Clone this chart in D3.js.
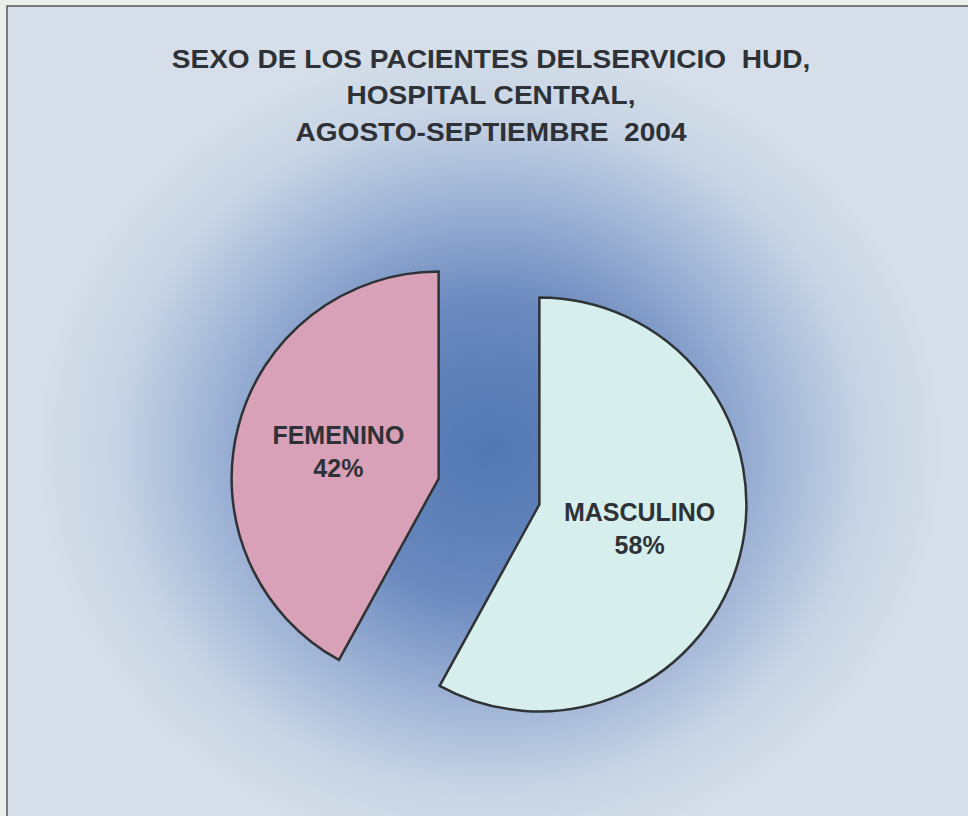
<!DOCTYPE html>
<html>
<head>
<meta charset="utf-8">
<script src="https://cdn.jsdelivr.net/npm/d3@7"></script>
<style>
  html, body { margin: 0; padding: 0; background: #eceee8; }
  svg { display: block; }
  text { font-family: "Liberation Sans", Arial, sans-serif; font-weight: bold; fill: #2e3236; white-space: pre; }
</style>
</head>
<body>
<svg id="chart" width="968" height="816"></svg>
<script>
const categories = ["MASCULINO", "FEMENINO"];
const values = [58, 42];
const sliceColors = ["#d6eeec", "#d9a1b7"];
const titleLines = [
	"SEXO DE LOS PACIENTES DELSERVICIO  HUD,",
	"HOSPITAL CENTRAL,",
	"AGOSTO-SEPTIEMBRE  2004"
];

const width = 968;
const height = 816;
const svg = d3.select("#chart");

// Background gradient (light edges, blue centre)
const defs = svg.append("defs");
const grad = defs.append("radialGradient")
	.attr("id", "bg")
	.attr("gradientUnits", "userSpaceOnUse")
	.attr("cx", 490).attr("cy", 450).attr("r", 440)
	.attr("gradientTransform", "translate(490,450) scale(1.05,0.95) translate(-490,-450)");
grad.append("stop").attr("offset", "0%").attr("stop-color", "#5177b2");
grad.append("stop").attr("offset", "35%").attr("stop-color", "#6a89bf");
grad.append("stop").attr("offset", "62%").attr("stop-color", "#a2b6d7");
grad.append("stop").attr("offset", "82%").attr("stop-color", "#c9d5e5");
grad.append("stop").attr("offset", "100%").attr("stop-color", "#d6dfe9");

svg.append("rect")
	.attr("x", 7).attr("y", 6)
	.attr("width", width - 7).attr("height", height - 6)
	.attr("fill", "url(#bg)");

// frame lines (left and top are visible in the scan)
svg.append("path")
	.attr("d", d3.line()([[7, height], [7, 6], [width, 6]]))
	.attr("fill", "none")
	.attr("stroke", "#555a5e")
	.attr("stroke-width", 1.5);

// Title (slightly wide face, like the scan)
svg.append("g")
	.attr("transform", "translate(491,0) scale(1.06,1)")
	.selectAll("text")
	.data(titleLines)
	.join("text")
	.attr("x", 0)
	.attr("y", (d, i) => 68 + i * 36.5)
	.attr("text-anchor", "middle")
	.attr("font-size", 26.5)
	.text(d => d);

// Pie
const cx = 489, cy = 491.5;
const radius = 207;
const explode = 52;

const pie = d3.pie().sort(null).value(d => d.value);
const arcs = pie(categories.map((c, i) => ({ name: c, value: values[i], color: sliceColors[i] })));
const arc = d3.arc().innerRadius(0).outerRadius(radius);

const slices = svg.append("g")
	.attr("transform", `translate(${cx},${cy})`)
	.selectAll("g")
	.data(arcs)
	.join("g")
	.attr("transform", d => {
		const a = (d.startAngle + d.endAngle) / 2;
		return `translate(${Math.sin(a) * explode},${-Math.cos(a) * explode})`;
	});

slices.append("path")
	.attr("d", arc)
	.attr("fill", d => d.data.color)
	.attr("stroke", "#2f3336")
	.attr("stroke-width", 2.5)
	.attr("stroke-linejoin", "miter");

// Labels at half radius along slice middle
const labelPos = d => {
	const a = (d.startAngle + d.endAngle) / 2;
	return [Math.sin(a) * radius * 0.5, -Math.cos(a) * radius * 0.5];
};

slices.append("text")
	.attr("text-anchor", "middle")
	.attr("font-size", 25)
	.attr("x", d => labelPos(d)[0])
	.attr("y", d => labelPos(d)[1] - 9)
	.text(d => d.data.name);

slices.append("text")
	.attr("text-anchor", "middle")
	.attr("font-size", 25)
	.attr("x", d => labelPos(d)[0])
	.attr("y", d => labelPos(d)[1] + 24)
	.text(d => d.data.value + "%");
</script>
</body>
</html>
